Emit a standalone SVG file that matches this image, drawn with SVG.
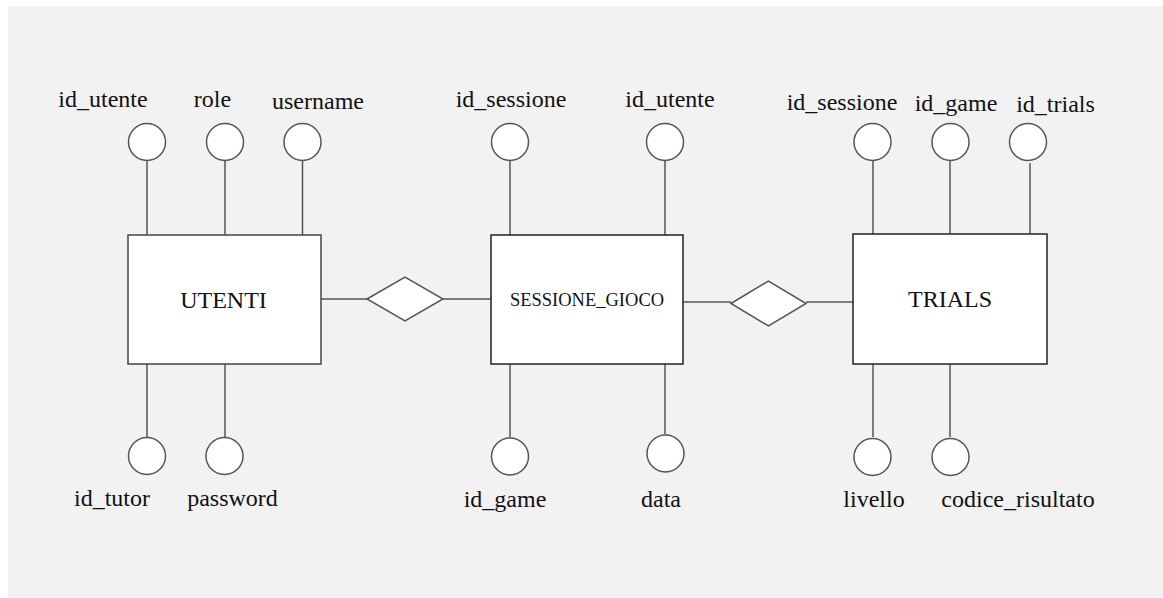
<svg xmlns="http://www.w3.org/2000/svg" width="1163" height="598" viewBox="0 0 1163 598">
<style>
.ent{fill:#fff;stroke:#444;stroke-width:1.5}
.att{fill:#fff;stroke:#555;stroke-width:1.5}
.rel{fill:#fff;stroke:#555;stroke-width:1.5}
.ln{stroke:#555;stroke-width:1.5;fill:none}
text{font-family:"Liberation Serif","Times New Roman",serif;font-size:24px;fill:#111;text-anchor:middle}
.small{font-size:18.5px}
</style>
<rect x="0" y="0" width="1163" height="598" fill="#fff"/>
<rect x="8" y="6" width="1155" height="592" fill="#f2f2f2"/>
<g id="connectors">
<line class="ln" x1="147" y1="161" x2="147" y2="235"/>
<line class="ln" x1="225" y1="161" x2="225" y2="235"/>
<line class="ln" x1="302.5" y1="161" x2="302.5" y2="235"/>
<line class="ln" x1="147" y1="364" x2="147" y2="437"/>
<line class="ln" x1="225" y1="364" x2="225" y2="437"/>
<line class="ln" x1="510" y1="161" x2="510" y2="235"/>
<line class="ln" x1="665" y1="161" x2="665" y2="235"/>
<line class="ln" x1="510" y1="364" x2="510" y2="437"/>
<line class="ln" x1="665" y1="364" x2="665" y2="434"/>
<line class="ln" x1="873" y1="161" x2="873" y2="234"/>
<line class="ln" x1="950" y1="161" x2="950" y2="234"/>
<line class="ln" x1="1030" y1="163" x2="1030" y2="234"/>
<line class="ln" x1="873" y1="364" x2="873" y2="437"/>
<line class="ln" x1="950" y1="364" x2="950" y2="437"/>
<line class="ln" x1="321" y1="299" x2="367" y2="299"/>
<line class="ln" x1="443" y1="299" x2="491" y2="299"/>
<line class="ln" x1="683" y1="302" x2="731" y2="302"/>
<line class="ln" x1="806" y1="302" x2="853" y2="302"/>
</g>
<g id="utenti">
<rect class="ent" x="128" y="235" width="193" height="129"/>
<text x="223.5" y="308">UTENTI</text>
</g>
<g id="sessione_gioco">
<rect class="ent" x="491" y="235" width="192" height="129" style="stroke:#222"/>
<text class="small" x="587" y="306">SESSIONE_GIOCO</text>
</g>
<g id="trials">
<rect class="ent" x="853" y="234" width="194" height="130" style="stroke:#222"/>
<text x="950" y="307">TRIALS</text>
</g>
<g id="rel1"><polygon class="rel" points="367,299 405,277 443,299 405,321"/></g>
<g id="rel2"><polygon class="rel" points="731,303.5 768.5,281 806,303.5 768.5,326"/></g>
<g id="utenti_id_utente"><circle class="att" cx="147" cy="142" r="18.5"/><text x="103" y="107">id_utente</text></g>
<g id="utenti_role"><circle class="att" cx="225" cy="142" r="18.5"/><text x="212.5" y="107">role</text></g>
<g id="utenti_username"><circle class="att" cx="302.5" cy="142" r="18.5"/><text x="318" y="109">username</text></g>
<g id="utenti_id_tutor"><circle class="att" cx="147" cy="456" r="18.5"/><text x="112" y="506">id_tutor</text></g>
<g id="utenti_password"><circle class="att" cx="224.5" cy="456" r="18.5"/><text x="232.5" y="506">password</text></g>
<g id="sessione_id_sessione"><circle class="att" cx="510" cy="142" r="18.5"/><text x="511" y="107">id_sessione</text></g>
<g id="sessione_id_utente"><circle class="att" cx="665" cy="142" r="18.5"/><text x="670" y="107">id_utente</text></g>
<g id="sessione_id_game"><circle class="att" cx="510" cy="456.5" r="18.5"/><text x="505" y="507">id_game</text></g>
<g id="sessione_data"><circle class="att" cx="665.5" cy="453.5" r="18.5"/><text x="661" y="507">data</text></g>
<g id="trials_id_sessione"><circle class="att" cx="872.5" cy="142" r="18.5"/><text x="842" y="110">id_sessione</text></g>
<g id="trials_id_game"><circle class="att" cx="950.5" cy="142" r="18.5"/><text x="956" y="111">id_game</text></g>
<g id="trials_id_trials"><circle class="att" cx="1028" cy="142" r="18.5"/><text x="1055.5" y="112">id_trials</text></g>
<g id="trials_livello"><circle class="att" cx="872.5" cy="457" r="18.5"/><text x="874" y="507">livello</text></g>
<g id="trials_codice_risultato"><circle class="att" cx="950.5" cy="457" r="18.5"/><text x="1018" y="507">codice_risultato</text></g>
</svg>
